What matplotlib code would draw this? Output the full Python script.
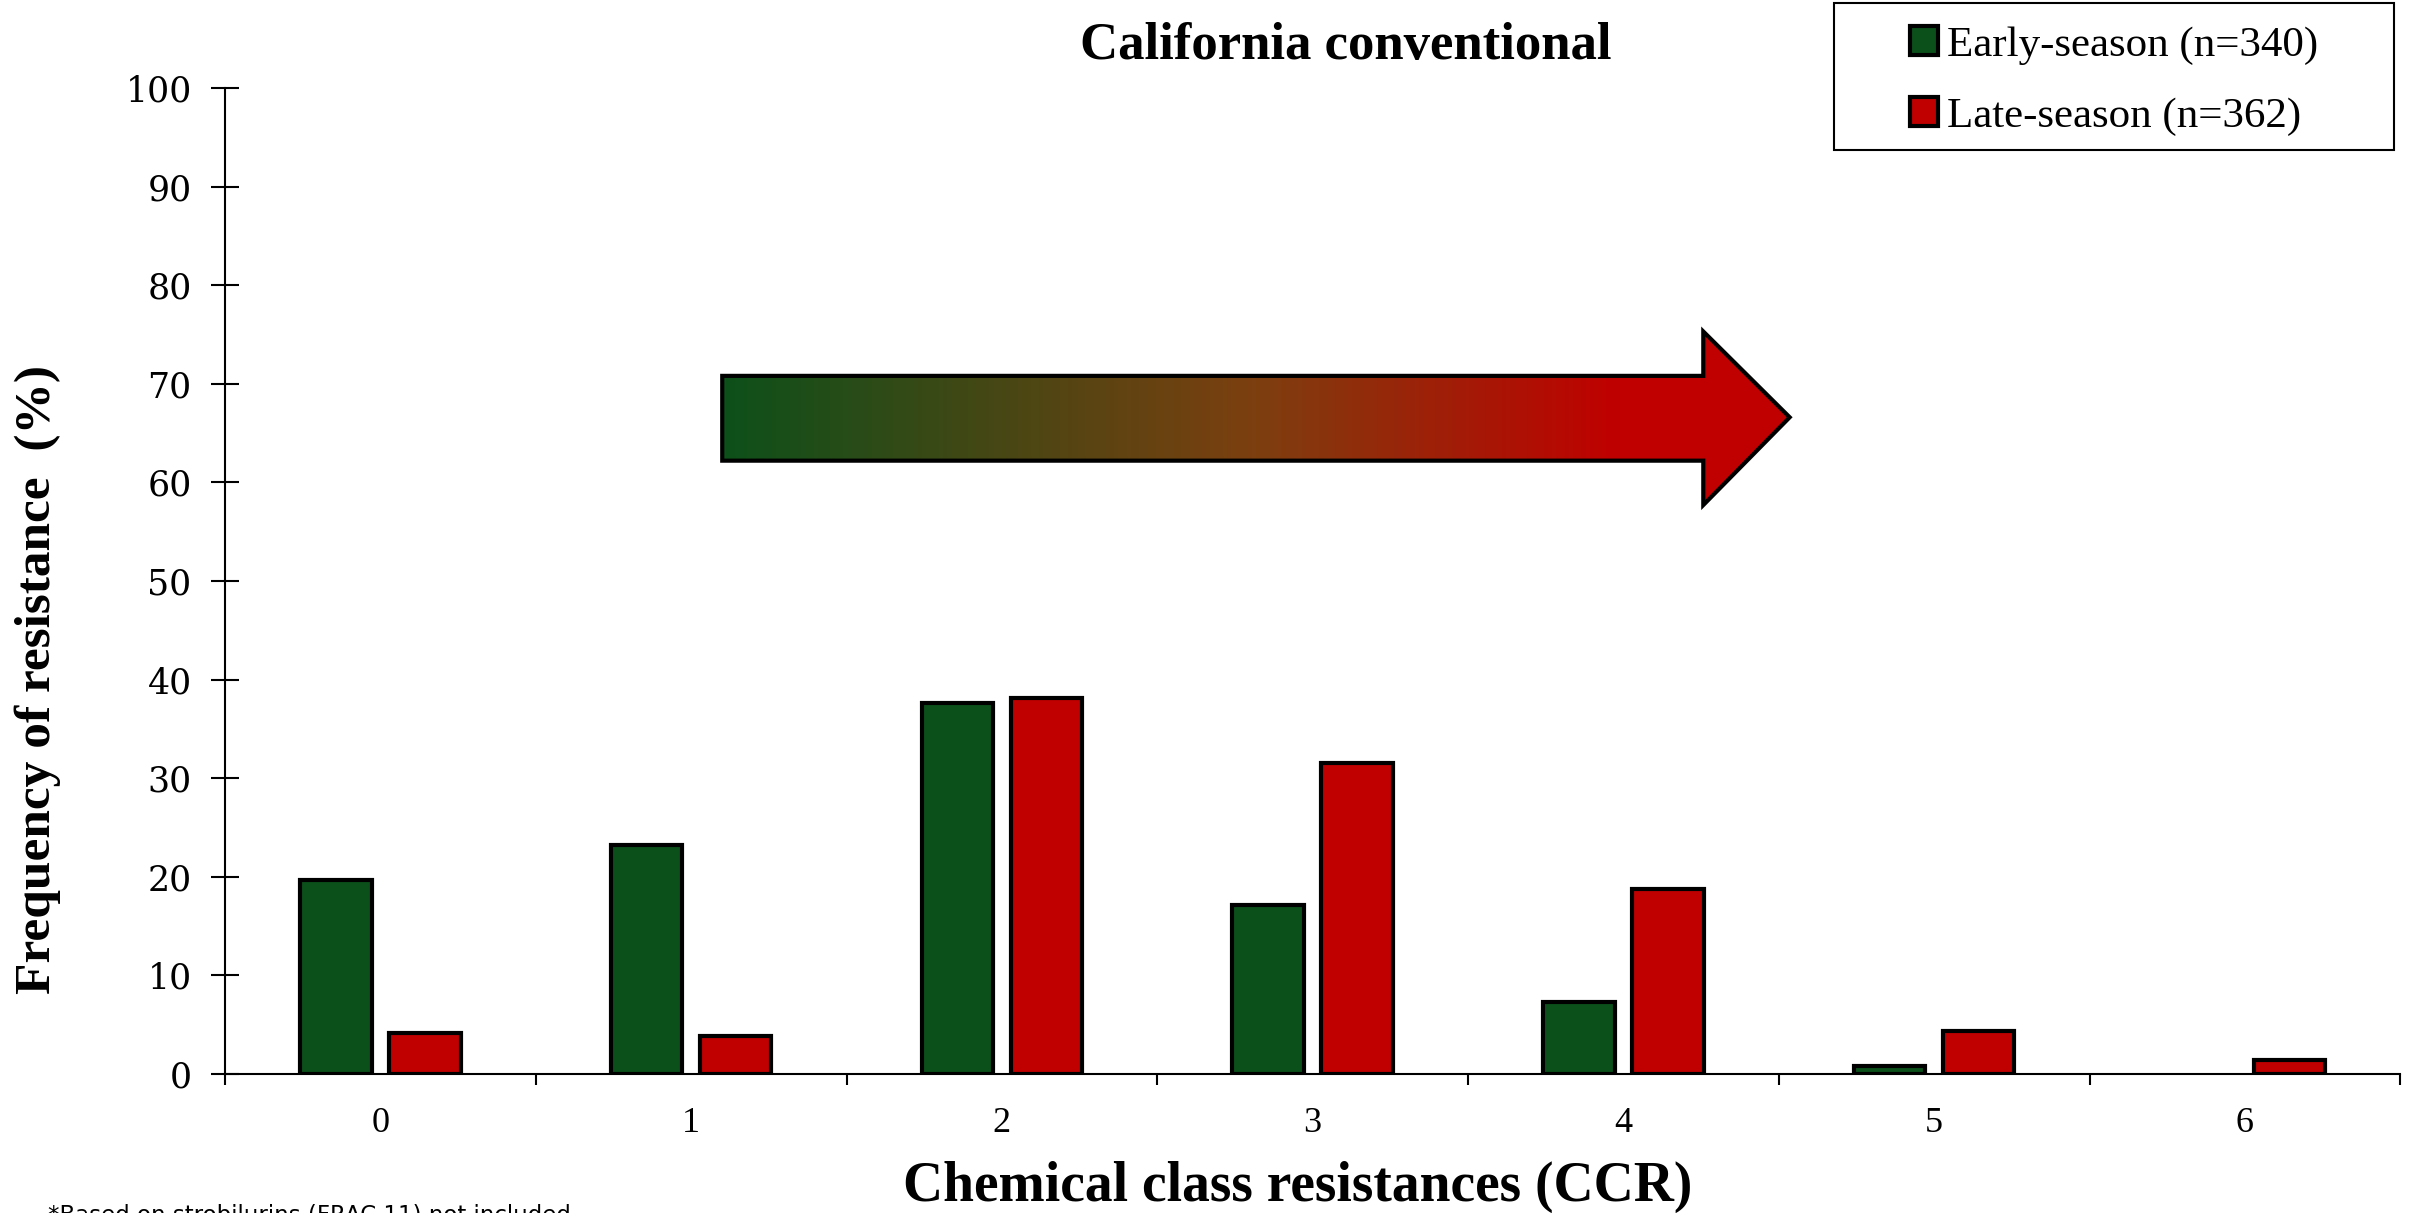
import matplotlib
matplotlib.use("Agg")
import matplotlib.pyplot as plt
import numpy as np
from matplotlib.colors import LinearSegmentedColormap
from matplotlib.patches import Polygon, Rectangle

plt.rcParams['font.family'] = ['Liberation Serif', 'DejaVu Serif']

# datos
ccr = ['0', '1', '2', '3', '4', '5', '6']
early = [19.7, 23.2, 37.6, 17.1, 7.3, 0.8, 0.0]
late = [4.2, 3.9, 38.1, 31.5, 18.8, 4.4, 1.4]
early_label = 'Early-season (n=340)'
late_label = 'Late-season (n=362)'
y_ticks = [0, 10, 20, 30, 40, 50, 60, 70, 80, 90, 100]

green = '#0b501b'
red = '#c00000'

fig = plt.figure(figsize=(24.17, 12.13), dpi=100)
ax = fig.add_axes([0.0931, 0.1146, 0.900, 0.8129])

x = np.arange(len(ccr))
w = 0.23
b1 = ax.bar(x - 0.143, early, w, color=green, edgecolor='black', linewidth=3, label=early_label, zorder=3)
b2 = ax.bar(x + 0.143, late, w, color=red, edgecolor='black', linewidth=3, label=late_label, zorder=3)
# sin borde para las barras en cero
for bars, vals in [(b1, early), (b2, late)]:
    for r, v in zip(bars, vals):
        if v == 0:
            r.set_visible(False)

ax.set_xlim(-0.5, len(ccr) - 0.5)
ax.set_ylim(0, 100)
ax.set_yticks(y_ticks)
ax.set_yticklabels([str(t) for t in y_ticks], fontfamily='DejaVu Serif', fontsize=25)
ax.set_xticks(x)
ax.set_xticklabels(ccr, fontsize=26)
ax.set_xticks(np.arange(len(ccr) + 1) - 0.5, minor=True)
ax.tick_params(axis='x', which='major', length=0, pad=24)
ax.tick_params(axis='x', which='minor', length=8, width=1.5, direction='out')
ax.tick_params(axis='y', which='major', length=20, width=1.5, direction='inout', pad=14)

for s in ['top', 'right']:
    ax.spines[s].set_visible(False)
for s in ['left', 'bottom']:
    ax.spines[s].set_linewidth(1.5)

# flecha con degradado verde -> rojo
cmap = LinearSegmentedColormap.from_list('gr', [(0, '#0d501a'), (0.5, '#7d3f0f'),
                                               (0.84, '#c00000'), (1, '#c00000')])
ax_pts = [(1.10, 62.2), (4.257, 62.2), (4.257, 57.7), (4.535, 66.6),
          (4.257, 75.3), (4.257, 70.8), (1.10, 70.8)]
arrow = Polygon(ax_pts, closed=True, facecolor='none', edgecolor='black', linewidth=3, zorder=5)
ax.add_patch(arrow)
grad = np.linspace(0, 1, 256).reshape(1, -1)
im = ax.imshow(grad, cmap=cmap, extent=[1.10, 4.535, 57.7, 75.3], aspect='auto', zorder=4)
im.set_clip_path(arrow)

fig.text(1346 / 2417, 1 - 46 / 1213, 'California conventional', ha='center', va='center',
         fontsize=38, fontweight='bold')
fig.text(38 / 2417, 1 - 680 / 1213, 'Frequency of resistance  (%)', rotation=90,
         ha='center', va='center', fontsize=37, fontweight='bold')
fig.text(1298 / 2417, 1 - 1187 / 1213, 'Chemical class resistances (CCR)', ha='center',
         va='center', fontsize=40, fontweight='bold')
fig.text(48 / 2417, 1 - 1203 / 1213, '*Based on strobilurins (FRAC 11) not included',
         ha='left', va='top', fontsize=16.5, fontfamily='DejaVu Sans')

# leyenda con marco dibujado aparte
fig.patches.append(Rectangle((1834 / 2417, 1 - 150 / 1213), 560 / 2417, 147 / 1213,
                             transform=fig.transFigure, facecolor='white',
                             edgecolor='black', linewidth=1.5, zorder=1))
leg = fig.legend(loc='center', bbox_to_anchor=(2114 / 2417, 1 - 81 / 1213), fontsize=31,
                 frameon=False, handlelength=0.65, handleheight=0.65, handletextpad=0.2,
                 borderpad=0, labelspacing=0.75)
for h in leg.legend_handles:
    h.set_linewidth(3)

fig.savefig('out.png', dpi=100)
